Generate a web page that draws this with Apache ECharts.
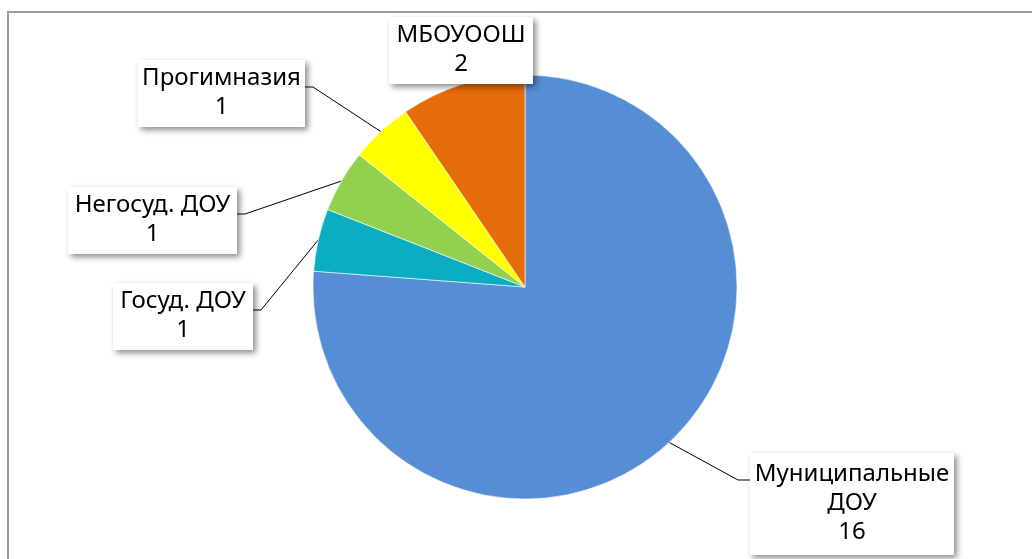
<!DOCTYPE html>
<html>
<head>
<meta charset="utf-8">
<script src="https://cdn.jsdelivr.net/npm/echarts@6/dist/echarts.min.js"></script>
<style>html,body{margin:0;padding:0;background:#fff}#c{width:1032px;height:559px}</style>
</head>
<body>
<div id="c"></div>
<script>
const categories = ['Муниципальные ДОУ', 'Госуд. ДОУ', 'Негосуд. ДОУ', 'Прогимназия', 'МБОУООШ'];
const values = [16, 1, 1, 1, 2];
const colors = ['#558ED5', '#0BADC2', '#92D050', '#FFFF00', '#E46C0A'];

// label box layout: left, top, width, side ('L' = line attaches on right edge, 'R' = on left edge, null = no line)
const boxes = [
  { l: 750, t: 453, w: 204, side: 'R' },
  { l: 113, t: 283, w: 140, side: 'L' },
  { l: 68,  t: 187, w: 169, side: 'L' },
  { l: 138, t: 60,  w: 167, side: 'L' },
  { l: 389, t: 17,  w: 144, side: null }
];

const chart = echarts.init(document.getElementById('c'), null, { renderer: 'canvas' });
const FONT = '"Noto Sans", "DejaVu Sans", sans-serif';

const data = categories.map((name, i) => ({
  name: name,
  value: values[i],
  itemStyle: { color: colors[i] },
  label: { width: boxes[i].w, padding: i === 0 ? [7, 0, 8, 0] : [4, 0, 5, 0] },
  labelLine: { show: boxes[i].side !== null }
}));

chart.setOption({
  animation: false,
  backgroundColor: '#fff',
  graphic: [{
    type: 'rect',
    shape: { x: 8, y: 12, width: 1200, height: 700 },
    style: { fill: 'none', stroke: '#9a9a9a', lineWidth: 2 },
    silent: true
  }],
  series: [{
    type: 'pie',
    center: [525, 287],
    radius: 212,
    startAngle: 90,
    clockwise: true,
    data: data,
    itemStyle: { borderColor: '#ffffff', borderWidth: 0.6 },
    label: {
      show: true,
      position: 'outside',
      formatter: p => (p.name.length > 14 ? p.name.replace(' ', '\n') : p.name) + '\n' + p.value,
      fontFamily: FONT,
      fontSize: 24,
      lineHeight: 29,
      color: '#000',
      align: 'center',
      backgroundColor: '#fff',
      shadowColor: 'rgba(0,0,0,0.45)',
      shadowBlur: 6,
      shadowOffsetX: 3,
      shadowOffsetY: 3
    },
    labelLine: {
      show: true,
      lineStyle: { color: '#000', width: 1 }
    },
    labelLayout: function (params) {
      const b = boxes[params.dataIndex];
      const res = { x: b.l + b.w / 2, y: b.t, align: 'center', verticalAlign: 'top' };
      if (b.side && params.labelLinePoints) {
        const p0 = params.labelLinePoints[0];
        const ay = b.t + 27;
        if (b.side === 'L') {
          const ex = b.l + b.w - 3;
          res.labelLinePoints = [p0, [ex + 11, ay], [ex, ay]];
        } else {
          const ex = b.l + 2;
          res.labelLinePoints = [p0, [ex - 14, ay], [ex, ay]];
        }
      }
      return res;
    }
  }]
});
</script>
</body>
</html>
